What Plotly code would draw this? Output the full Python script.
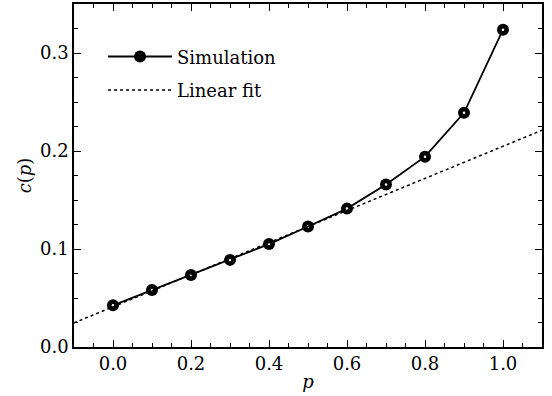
import plotly.graph_objects as go

p_values = [0.0, 0.1, 0.2, 0.3, 0.4, 0.5, 0.6, 0.7, 0.8, 0.9, 1.0]
c_values = [0.0425, 0.0582, 0.0735, 0.0889, 0.105, 0.123, 0.1412, 0.1658, 0.1942, 0.239, 0.3238]
fit_intercept = 0.0410
fit_slope = 0.1638
fit_x = [-0.1, 1.1]
fit_y = [fit_intercept + fit_slope * x for x in fit_x]

x_tickvals = [0.0, 0.2, 0.4, 0.6, 0.8, 1.0]
x_ticktext = ["0.0", "0.2", "0.4", "0.6", "0.8", "1.0"]
y_tickvals = [0.0, 0.1, 0.2, 0.3]
y_ticktext = ["0.0", "0.1", "0.2", "0.3"]

FONT = "DejaVu Serif"

fig = go.Figure()
fig.add_trace(go.Scatter(
    x=p_values, y=c_values, mode="lines+markers", name="Simulation",
    legendgroup="a",
    line=dict(color="black", width=1.8),
    marker=dict(color="black", size=12, line=dict(width=0)),
))
fig.add_trace(go.Scatter(
    x=p_values, y=c_values, mode="markers", showlegend=False,
    marker=dict(color="white", size=2.5, line=dict(width=0)),
    hoverinfo="skip",
))
fig.add_trace(go.Scatter(
    x=fit_x, y=fit_y, mode="lines", name="Linear fit",
    legendgroup="b",
    line=dict(color="black", width=1.5, dash="dot"),
))

axis_common = dict(
    showline=True, linecolor="black", linewidth=1.5, mirror="ticks",
    ticks="inside", ticklen=7, tickwidth=1.2, tickcolor="black",
    showgrid=False, zeroline=False,
    tickfont=dict(family=FONT, size=18, color="black"),
)

fig.update_xaxes(
    range=[-0.1, 1.1], tickvals=x_tickvals, ticktext=x_ticktext,
    minor=dict(ticks="inside", ticklen=4, dtick=0.05, tick0=0, tickcolor="black", tickwidth=1),
    title=dict(text="<i>p</i>", font=dict(family=FONT, size=18, color="black"), standoff=2),
    **axis_common,
)
fig.update_yaxes(
    range=[0, 0.35], tickvals=y_tickvals, ticktext=y_ticktext,
    minor=dict(ticks="inside", ticklen=4, dtick=0.025, tick0=0, tickcolor="black", tickwidth=1),
    title=dict(text="<i>c</i>(<i>p</i>)", font=dict(family=FONT, size=18, color="black"), standoff=4),
    **axis_common,
)

fig.update_layout(
    width=552, height=396,
    margin=dict(l=74, r=10, t=4, b=49, autoexpand=False),
    plot_bgcolor="white", paper_bgcolor="white",
    font=dict(family=FONT, size=18, color="black"),
    legend=dict(
        x=0.062, y=0.90, xanchor="left", yanchor="top",
        bgcolor="rgba(0,0,0,0)", borderwidth=0,
        itemwidth=64, tracegroupgap=7,
        font=dict(family=FONT, size=18, color="black"),
    ),
    showlegend=True,
)

fig.write_html(
    "out.html",
    config={"displayModeBar": False},
    post_script="document.body.style.margin='0';document.body.style.overflow='hidden';",
)
